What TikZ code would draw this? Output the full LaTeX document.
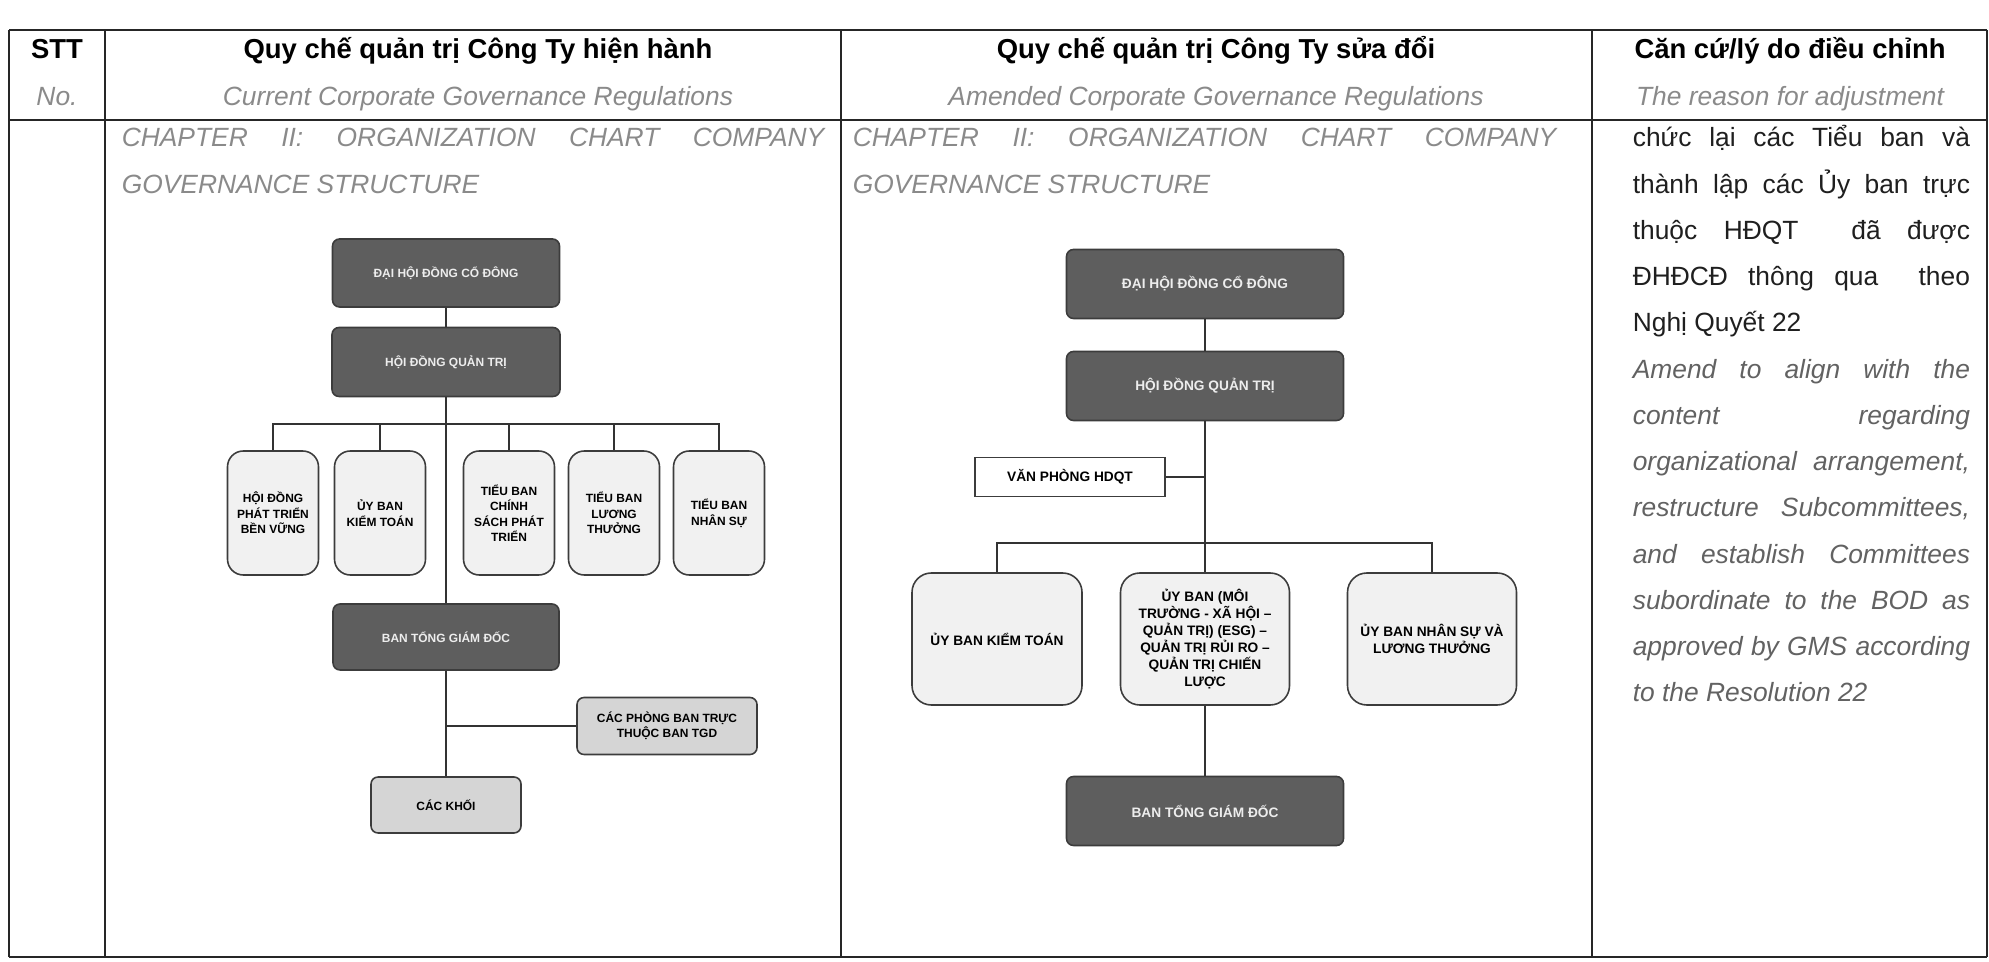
\documentclass[tikz,border=0pt]{standalone}
\usepackage{fontspec}
\setmainfont{Liberation Sans}
\setlength{\parindent}{0pt}
\definecolor{boxdark}{HTML}{5E5E5E}
\definecolor{boxedge}{HTML}{3C3C3C}
\definecolor{boxlight}{HTML}{F1F1F1}
\definecolor{boxmid}{HTML}{D5D5D5}
\definecolor{engtext}{HTML}{8A8A8A}
\definecolor{engbody}{HTML}{626262}
\newcommand{\headfont}{\fontsize{7.8}{9}\selectfont\bfseries}
\newcommand{\bodyfont}{\fontsize{7.5}{13.15}\selectfont}
\newcommand{\leftchart}{\fontsize{3.4}{4.4}\selectfont\bfseries}
\newcommand{\rightchart}{\fontsize{3.9}{4.85}\selectfont\bfseries}

\begin{document}
\begin{tikzpicture}[x=0.01cm,y=-0.01cm,line width=0.45pt,
  tableline/.style={line width=0.8pt,black!85},
  conn/.style={draw=black!80,line width=0.45pt},
  boxsize/.style 2 args={minimum width=#1*0.01cm,minimum height=#2*0.01cm},
  darkbox/.style={draw=boxedge,fill=boxdark,rounded corners=2pt,text=white!93!black,align=center,inner sep=0pt},
  lightbox/.style={draw=boxedge,fill=boxlight,rounded corners=4.5pt,align=center,inner sep=0pt},
  midbox/.style={draw=boxedge,fill=boxmid,rounded corners=2pt,align=center,inner sep=0pt},
  plainbox/.style={draw=boxedge,fill=white,align=center,inner sep=0pt},
  headtext/.style={font=\headfont,anchor=base,inner sep=0pt},
  subtext/.style={font=\bodyfont\itshape,text=engtext,anchor=base,inner sep=0pt},
  rowtext/.style={font=\bodyfont,anchor=north west,inner sep=0pt,align=justify}]
\useasboundingbox (0,0) rectangle (1989,962);

% table
\draw[tableline] (9,30) -- (1987,30);
\draw[tableline] (9,120) -- (1987,120);
\draw[tableline] (9,957) -- (1987,957);
\foreach \xx in {9,105,841,1592,1987}
  \draw[tableline] (\xx,30) -- (\xx,957);

% header row
\node[headtext] (stt) at (57,59) {STT};
\node[subtext] (no) at (57,106) {No.};
\node[headtext] (curhead) at (478,59) {Quy chế quản trị Công Ty hiện hành};
\node[subtext] (cursub) at (478,106) {Current Corporate Governance Regulations};
\node[headtext] (newhead) at (1216,59) {Quy chế quản trị Công Ty sửa đổi};
\node[subtext] (newsub) at (1216,106) {Amended Corporate Governance Regulations};
\node[headtext] (whyhead) at (1790,59) {Căn cứ/lý do điều chỉnh};
\node[subtext] (whysub) at (1790,106) {The reason for adjustment};

% chapter titles
\node[rowtext,text width=7.02cm,text=engtext] (curtitle) at (121,118)
  {\itshape\rule{0pt}{8pt}CHAPTER II: ORGANIZATION CHART COMPANY\linebreak GOVERNANCE STRUCTURE};
\node[rowtext,text width=7.03cm,text=engtext] (newtitle) at (852,118)
  {\itshape\rule{0pt}{8pt}CHAPTER II: ORGANIZATION CHART COMPANY\linebreak GOVERNANCE STRUCTURE};

% reason text
\node[rowtext,text width=3.37cm,text=black!88] (reason) at (1632,118)
  {\tolerance=10000\hyphenpenalty=10000\rule{0pt}{8pt}chức lại các Tiểu ban và\linebreak
   thành lập các Ủy ban trực\linebreak
   thuộc HĐQT\ \ đã được\linebreak
   ĐHĐCĐ thông qua\ \ theo\linebreak
   Nghị Quyết 22\par
   {\color{engbody}\itshape Amend to align with the\linebreak
   content regarding\linebreak
   organizational arrangement,\linebreak
   restructure Subcommittees,\linebreak
   and establish Committees\linebreak
   subordinate to the BOD as\linebreak
   approved by GMS according\linebreak
   to the Resolution 22\par}};

% current chart
\node[darkbox,boxsize={227}{68},font=\leftchart] (ldhd) at (446,273) {ĐẠI HỘI ĐỒNG CỔ ĐÔNG};
\node[darkbox,boxsize={228}{69},font=\leftchart] (lhdqt) at (446,362) {HỘI ĐỒNG QUẢN TRỊ};
\node[lightbox,boxsize={91}{124},font=\leftchart] (lc1) at (273,513) {HỘI ĐỒNG\\PHÁT TRIỂN\\BỀN VỮNG};
\node[lightbox,boxsize={91}{124},font=\leftchart] (lc2) at (380,513) {ỦY BAN\\KIỂM TOÁN};
\node[lightbox,boxsize={91}{124},font=\leftchart] (lc3) at (509,513) {TIỂU BAN\\CHÍNH\\SÁCH PHÁT\\TRIỂN};
\node[lightbox,boxsize={91}{124},font=\leftchart] (lc4) at (614,513) {TIỂU BAN\\LƯƠNG\\THƯỞNG};
\node[lightbox,boxsize={91}{124},font=\leftchart] (lc5) at (719,513) {TIỂU BAN\\NHÂN SỰ};
\node[darkbox,boxsize={226}{66},font=\leftchart] (ltgd) at (446,637) {BAN TỔNG GIÁM ĐỐC};
\node[midbox,boxsize={180}{57},font=\leftchart] (lphong) at (667,726) {CÁC PHÒNG BAN TRỰC\\THUỘC BAN TGD};
\node[midbox,boxsize={150}{56},font=\leftchart] (lkhoi) at (446,805) {CÁC KHỐI};
\coordinate (lbus) at (446,424);

\draw[conn] (ldhd) -- (lhdqt);
\draw[conn] (lhdqt.south) -- (ltgd.north);
\draw[conn] (lc1.north) -- (lc1.north |- lbus) -- (lc5.north |- lbus) -- (lc5.north);
\foreach \kid in {lc2,lc3,lc4}
  \draw[conn] (\kid.north) -- (\kid.north |- lbus);
\draw[conn] (ltgd.south) -- (lkhoi.north);
\draw[conn] (lphong.west) -- (lphong.west -| ltgd.south);

% amended chart
\node[darkbox,boxsize={277}{69},font=\rightchart] (rdhd) at (1205,284) {ĐẠI HỘI ĐỒNG CỔ ĐÔNG};
\node[darkbox,boxsize={277}{69},font=\rightchart] (rhdqt) at (1205,386) {HỘI ĐỒNG QUẢN TRỊ};
\node[plainbox,boxsize={190}{39},font=\rightchart] (rvp) at (1070,477) {VĂN PHÒNG HDQT};
\node[lightbox,rounded corners=5.5pt,boxsize={170}{132},font=\rightchart] (rc1) at (997,639) {ỦY BAN KIỂM TOÁN};
\node[lightbox,rounded corners=5.5pt,boxsize={169}{132},font=\rightchart] (resg) at (1205,639)
  {ỦY BAN (MÔI\\TRƯỜNG - XÃ HỘI –\\QUẢN TRỊ) (ESG) –\\QUẢN TRỊ RỦI RO –\\QUẢN TRỊ CHIẾN\\LƯỢC};
\node[lightbox,rounded corners=5.5pt,boxsize={169}{132},font=\rightchart] (rc3) at (1432,639) {ỦY BAN NHÂN SỰ VÀ\\LƯƠNG THƯỞNG};
\node[darkbox,boxsize={277}{69},font=\rightchart] (rtgd) at (1205,811) {BAN TỔNG GIÁM ĐỐC};
\coordinate (rbus) at (1205,543);

\draw[conn] (rdhd) -- (rhdqt);
\draw[conn] (rhdqt.south) -- (resg.north);
\draw[conn] (rvp.east) -- (rvp.east -| rhdqt.south);
\draw[conn] (rc1.north) -- (rc1.north |- rbus) -- (rc3.north |- rbus) -- (rc3.north);
\draw[conn] (resg) -- (rtgd);
\end{tikzpicture}
\end{document}
